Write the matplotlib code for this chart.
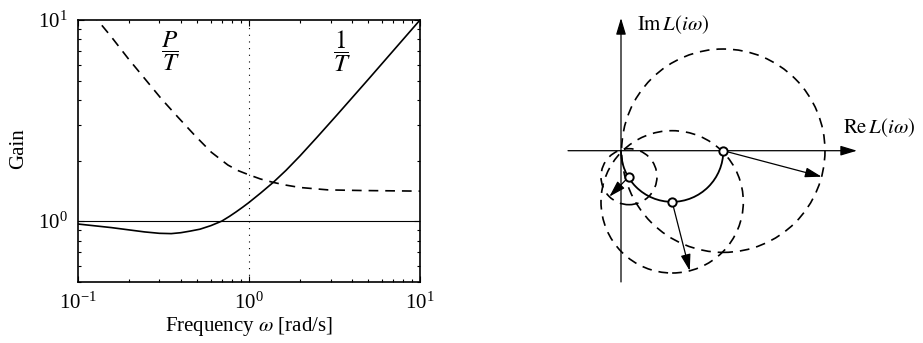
import numpy as np
import matplotlib
matplotlib.use('Agg')
import matplotlib.pyplot as plt
from matplotlib.patches import Arc, Circle
from matplotlib.ticker import NullFormatter

plt.rcParams['font.family'] = 'serif'
plt.rcParams['font.serif'] = ['Liberation Serif', 'DejaVu Serif']
plt.rcParams['mathtext.fontset'] = 'stix'
plt.rcParams['font.size'] = 15
plt.rcParams['lines.scale_dashes'] = False

# gain curves
omega_T = [0.100, 0.157, 0.246, 0.300, 0.352, 0.400, 0.453, 0.518, 0.600,
           0.694, 0.770, 0.840, 0.920, 1.00, 1.17, 1.39, 1.65, 1.99, 2.50,
           3.26, 5.00, 10.0]
inv_T = [0.968, 0.929, 0.884, 0.870, 0.867, 0.876, 0.892, 0.912, 0.950,
         1.00, 1.056, 1.110, 1.173, 1.237, 1.378, 1.560, 1.79, 2.11, 2.61,
         3.36, 5.08, 10.0]

omega_PT = [0.120, 0.157, 0.197, 0.246, 0.308, 0.385, 0.483, 0.604, 0.755,
            0.870, 1.00, 1.17, 1.39, 1.65, 1.99, 2.91, 4.56, 10.0]
P_over_T = [10.9, 8.26, 6.44, 5.12, 4.06, 3.29, 2.67, 2.20, 1.90,
            1.78, 1.70, 1.62, 1.558, 1.51, 1.47, 1.43, 1.42, 1.41]

# Nyquist sketch: points on L(iw) and the perturbation vectors
pts_re = [1.0, 0.5, 0.078]
pts_im = [0.0, -0.5, -0.254]
vec_re = [0.961, 0.172, -0.192]
vec_im = [-0.254, -0.674, -0.195]

W, H = 923, 343
fig = plt.figure(figsize=(W / 100, H / 100), dpi=100)

#### left: gain plot
ax = fig.add_axes([77.7 / W, 1 - 281.7 / H, 342.3 / W, 261.7 / H])
ax.loglog(omega_T, inv_T, 'k-', lw=1.2)
ax.loglog(omega_PT, P_over_T, 'k-', lw=1.2, dashes=(7, 5))
ax.axhline(1, color='k', lw=0.8)
ax.axvline(1, color='k', lw=0.8, dashes=(0.8, 4))
ax.set_xlim(0.1, 10)
ax.set_ylim(0.5, 10)
ax.yaxis.set_minor_formatter(NullFormatter())
ax.xaxis.set_minor_formatter(NullFormatter())
ax.tick_params(which='both', direction='in', top=True, right=True, width=0.8)
ax.tick_params(which='major', length=4, pad=7)
ax.tick_params(axis='x', which='major', pad=8)
ax.tick_params(which='minor', length=2)
for s in ax.spines.values():
    s.set_linewidth(1.2)

ax.set_xlabel(r'Frequency $\omega$ [rad/s]', va='center')
ax.xaxis.set_label_coords(0.5, -0.172)
ax.set_ylabel('Gain', va='center')
ax.yaxis.set_label_coords(-0.1735, 0.51)

ax.text(0.346, 7.0, r'$\dfrac{P}{T}$', ha='center', va='center', fontsize=18)
ax.text(3.49, 7.0, r'$\dfrac{1}{T}$', ha='center', va='center', fontsize=18)

#### right: Nyquist sketch, 1 unit = 102.3 px, origin at (621, 150.7) px
sc = 102.3
ox, oy = 621, 150.7
ax2 = fig.add_axes([560 / W, 0, 363 / W, 1])
ax2.set_xlim((560 - ox) / sc, (W - ox) / sc)
ax2.set_ylim(-(H - oy) / sc, oy / sc)
ax2.axis('off')

arr = dict(arrowstyle='-|>,head_length=1.0,head_width=0.3', mutation_scale=10,
           color='k', fc='k', lw=0.9, shrinkA=0, shrinkB=0)
# coordinate axes
ax2.annotate('', xy=(2.307, 0), xytext=(-0.518, 0), arrowprops=arr)
ax2.annotate('', xy=(0, 1.297), xytext=(0, -1.283), arrowprops=arr)
ax2.text(0.153, 1.229, r'$\mathrm{Im}\,L(i\omega)$', ha='left', va='center')
ax2.text(2.17, 0.222, r'$\mathrm{Re}\,L(i\omega)$', ha='left', va='center')

# L(iw) half circle
ax2.add_patch(Arc((0.5, 0), 1.0, 1.0, theta1=180, theta2=360, color='k', lw=1.3))

for x, y, dx, dy in zip(pts_re, pts_im, vec_re, vec_im):
    r = np.hypot(dx, dy)
    ax2.add_patch(Circle((x, y), r, fill=False, ec='k', lw=1.2,
                         ls=(0, (7, 5))))
    ax2.annotate('', xy=(x + dx, y + dy), xytext=(x, y), arrowprops=arr)
ax2.plot(pts_re, pts_im, 'o', ms=6, mfc='white', mec='k', mew=1.4, zorder=5)

fig.savefig('out.png', dpi=100)
